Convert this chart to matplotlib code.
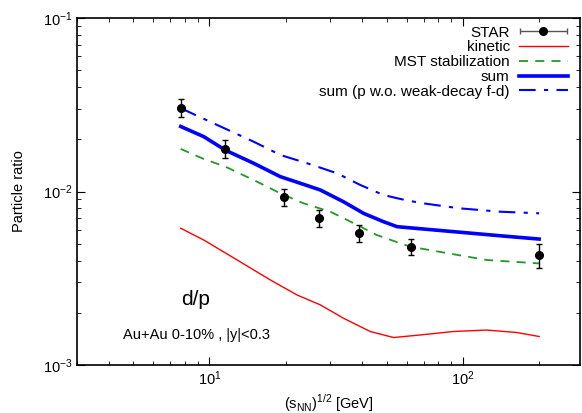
import numpy as np
import matplotlib
matplotlib.use('Agg')
import matplotlib.pyplot as plt
from matplotlib.container import ErrorbarContainer
from matplotlib.legend_handler import HandlerErrorbar

plt.rcParams['font.family'] = ['Liberation Sans', 'DejaVu Sans']
plt.rcParams['mathtext.fontset'] = 'custom'
plt.rcParams['mathtext.rm'] = 'Liberation Sans'

# STAR data
star_x = [7.7, 11.5, 19.6, 27.0, 39.0, 62.4, 200.0]
star_y = [0.0303, 0.0176, 0.0093, 0.00706, 0.00574, 0.00481, 0.00430]
star_lo = [0.0035, 0.0020, 0.0010, 0.0008, 0.0006, 0.0005, 0.0007]
star_hi = [0.0037, 0.0021, 0.0011, 0.0008, 0.0007, 0.0005, 0.0007]

# kinetic
kin_x = [7.7, 9.5, 12.86, 17.4, 22.2, 27.4, 33.8, 43.1, 53.3, 67.9, 91.8, 124.0, 163.0, 200.0]
kin_y = [0.00614, 0.00525, 0.00403, 0.00309, 0.00253, 0.00222, 0.00186, 0.00156, 0.00144,
         0.00149, 0.00156, 0.00159, 0.00154, 0.00146]

# MST stabilization
mst_x = [7.7, 9.5, 11.56, 14.95, 19.06, 23.5, 30.0, 37.1, 45.8, 56.6, 62.0, 91.8, 124.0, 200.0]
mst_y = [0.0176, 0.01539, 0.0139, 0.01164, 0.00976, 0.00855, 0.00765, 0.00656, 0.00561,
         0.00503, 0.00481, 0.00435, 0.00403, 0.00385]

# sum
sum_x = [7.7, 9.5, 11.56, 14.95, 19.06, 23.5, 27.4, 33.8, 40.6, 48.6, 55.0, 91.8, 144.0, 200.0]
sum_y = [0.0237, 0.0207, 0.0173, 0.01454, 0.01217, 0.0110, 0.0102, 0.00873, 0.00748, 0.0067,
         0.00627, 0.00587, 0.00554, 0.00532]

# sum (p w.o. weak-decay f-d)
sumwd_x = [7.7, 11.05, 14.95, 19.06, 25.0, 31.9, 39.4, 48.6, 56.6, 67.7, 97.1, 140.0, 200.0]
sumwd_y = [0.0302, 0.0237, 0.01936, 0.01623, 0.01435, 0.01273, 0.0109, 0.00955, 0.00906,
           0.0086, 0.0080, 0.00765, 0.00749]

fig = plt.figure(figsize=(5.82, 4.13), dpi=100)
ax = fig.add_axes([0.1323, 0.1162, 0.8643, 0.8402])

ax.errorbar(star_x, star_y, yerr=[star_lo, star_hi], fmt='o', color='black',
            ms=5.5, capsize=2.2, elinewidth=1, capthick=1, zorder=5)
# legend proxy with horizontal bar like gnuplot
star_leg = ax.errorbar([np.nan], [np.nan], xerr=[1], fmt='o', color='#555555', mfc='black',
                       mec='black', ms=5.5, capsize=2.5, elinewidth=1, label='STAR')
ax.plot(kin_x, kin_y, color='#ff0000', lw=1, label='kinetic')
ax.plot(mst_x, mst_y, color='#229922', lw=1.3, ls=(0, (5, 4)), label='MST stabilization')
ax.plot(sum_x, sum_y, color='#0000ff', lw=2.6, label='sum')
ax.plot(sumwd_x, sumwd_y, color='#0000ff', lw=1.5, ls=(0, (8, 4, 2, 4)),
        label='sum (p w.o. weak-decay f-d)')

ax.set_xscale('log')
ax.set_yscale('log')
ax.set_xlim(3, 290)
ax.set_ylim(1e-3, 1e-1)

ax.tick_params(which='both', direction='in', top=True, right=True, labelsize=10.5)
ax.tick_params(which='major', length=6)
ax.tick_params(which='minor', length=3)
for s in ax.spines.values():
    s.set_linewidth(1.2)

ax.set_xlabel(r'(s$_{\mathrm{NN}}$)$^{1/2}$ [GeV]', fontsize=10.5, labelpad=3)
ax.set_ylabel('Particle ratio', fontsize=10.5, labelpad=12)

ax.text(0.235, 0.19, 'd/p', transform=ax.transAxes, fontsize=15, ha='center', va='center')
ax.text(0.238, 0.086, 'Au+Au 0-10% , |y|<0.3', transform=ax.transAxes, fontsize=10.5,
        ha='center', va='center')

handles, labels = ax.get_legend_handles_labels()
order = [labels.index('STAR')] + [i for i, l in enumerate(labels) if l != 'STAR']
leg = ax.legend([handles[i] for i in order], [labels[i] for i in order],
                loc='upper right', frameon=False, markerfirst=False, fontsize=11,
                handlelength=3.2, labelspacing=0.05, borderaxespad=0.3, handletextpad=0.6,
                bbox_to_anchor=(0.997, 1.009),
                handler_map={ErrorbarContainer: HandlerErrorbar(xerr_size=1.55, numpoints=1)})

fig.savefig('out.png', dpi=100)
